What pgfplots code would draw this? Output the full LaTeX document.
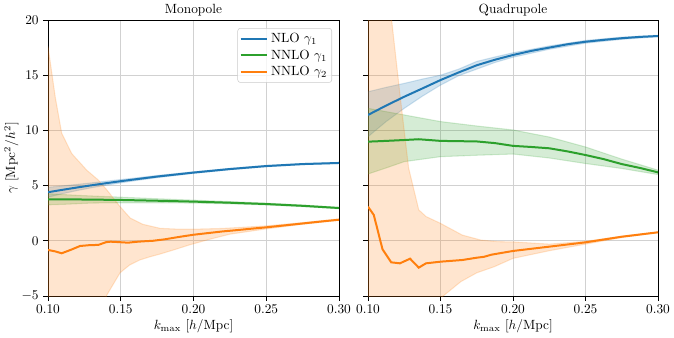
\documentclass[border=0pt]{standalone}
\usepackage{pgfplots}
\pgfplotsset{compat=1.18}
\usepgfplotslibrary{fillbetween}
\definecolor{cBlue}{RGB}{31,119,180}
\definecolor{cOrange}{RGB}{255,127,14}
\definecolor{cGreen}{RGB}{44,160,44}

\pgfplotsset{
  panel/.style={
    scale only axis, height=207pt,
    xmin=0.1, xmax=0.3, ymin=-5, ymax=20,
    xtick={0.1,0.15,0.2,0.25,0.3}, ytick={-5,0,5,10,15,20},
    xticklabel style={/pgf/number format/.cd, fixed, fixed zerofill, precision=2},
    grid=major, grid style={black!18, line width=0.6pt},
    tick align=outside, tick pos=left, major tick length=3.5pt,
    tick style={black, line width=0.6pt},
    axis line style={line width=0.6pt},
    xlabel={$k_{\max}$ [$h$/Mpc]}, xlabel shift=-3pt,
    title style={yshift=-6.5pt},
  },
  band/.style={draw=#1, draw opacity=0.2, fill=#1, fill opacity=0.2, line width=0.8pt},
  curve/.style={#1, line width=1.5pt},
}

\begin{document}
\begin{tikzpicture}

% ---------- Monopole ----------
\begin{axis}[panel, at={(0,0)}, anchor=south west, width=218.25pt,
    title={Monopole},
    ylabel={$\gamma$ [Mpc$^2/h^2$]}, ylabel shift=-4.5pt,
    legend cell align=left,
    legend style={at={(0.976,0.971)}, anchor=north east, draw=black!20,
      rounded corners=2pt, fill=white, fill opacity=0.8, text opacity=1,
      inner sep=1.5pt, row sep=0pt},
    legend image code/.code={\draw[#1] (0pt,0pt) -- (20pt,0pt);},
]
\addplot[draw=none, name path=bu, forget plot] coordinates {
  (0.10,4.85) (0.11,4.97) (0.12,5.11) (0.13,5.25) (0.14,5.40) (0.15,5.55) (0.16,5.69) (0.175,5.92) (0.20,6.25) (0.225,6.56) (0.25,6.83) (0.275,7.00) (0.30,7.10)};
\addplot[draw=none, name path=bl, forget plot] coordinates {
  (0.10,3.95) (0.11,4.27) (0.12,4.55) (0.13,4.81) (0.14,5.04) (0.15,5.25) (0.16,5.45) (0.175,5.72) (0.20,6.11) (0.225,6.44) (0.25,6.71) (0.275,6.90) (0.30,7.00)};
\addplot[band=cBlue, forget plot] fill between[of=bu and bl];
\addplot[draw=none, name path=gu, forget plot] coordinates {
  (0.10,4.26) (0.11,4.19) (0.12,4.12) (0.13,4.06) (0.15,3.95) (0.175,3.81) (0.20,3.68) (0.225,3.55) (0.25,3.41) (0.275,3.24) (0.30,3.03)};
\addplot[draw=none, name path=gl, forget plot] coordinates {
  (0.10,3.26) (0.11,3.30) (0.12,3.36) (0.13,3.42) (0.15,3.45) (0.175,3.45) (0.20,3.42) (0.225,3.35) (0.25,3.25) (0.275,3.10) (0.30,2.91)};
\addplot[band=cGreen, forget plot] fill between[of=gu and gl];
\addplot[draw=none, name path=ou, forget plot] coordinates {
  (0.100,17.6) (0.105,13.0) (0.1094,9.75) (0.1163,7.9) (0.1266,6.4) (0.1346,5.5) (0.1405,4.6) (0.1495,3.1) (0.1565,2.06) (0.165,1.5) (0.177,1.13) (0.19,1.05) (0.20,1.05) (0.22,1.12) (0.25,1.35) (0.275,1.65) (0.30,1.98)};
\addplot[draw=none, name path=ol, forget plot] coordinates {
  (0.100,-25) (0.11,-18) (0.12,-12) (0.13,-8.5) (0.1405,-4.9) (0.1495,-2.9) (0.156,-2.2) (0.163,-1.74) (0.17,-1.45) (0.177,-1.2) (0.187,-0.8) (0.197,-0.38) (0.21,0.1) (0.225,0.6) (0.25,1.08) (0.275,1.5) (0.30,1.85)};
\addplot[band=cOrange, forget plot] fill between[of=ou and ol];

\addplot[curve=cBlue] coordinates {
  (0.10,4.40) (0.11,4.62) (0.12,4.83) (0.13,5.03) (0.14,5.22) (0.15,5.40) (0.16,5.57) (0.175,5.82) (0.20,6.18) (0.225,6.50) (0.25,6.77) (0.275,6.95) (0.30,7.05)};
\addlegendentry{NLO $\gamma_1$}
\addplot[curve=cGreen] coordinates {
  (0.10,3.76) (0.125,3.74) (0.15,3.70) (0.175,3.63) (0.20,3.55) (0.225,3.45) (0.25,3.33) (0.275,3.17) (0.30,2.97)};
\addlegendentry{NNLO $\gamma_1$}
\addplot[curve=cOrange] coordinates {
  (0.100,-0.83) (0.1047,-0.95) (0.1094,-1.13) (0.116,-0.8) (0.122,-0.47) (0.128,-0.40) (0.1346,-0.37) (0.140,-0.12) (0.143,-0.08) (0.149,-0.12) (0.155,-0.17) (0.160,-0.10) (0.165,-0.05) (0.172,0.00) (0.180,0.13) (0.19,0.35) (0.20,0.55) (0.21,0.70) (0.22,0.85) (0.23,0.97) (0.24,1.10) (0.25,1.22) (0.26,1.36) (0.27,1.50) (0.28,1.64) (0.29,1.78) (0.30,1.91)};
\addlegendentry{NNLO $\gamma_2$}
\end{axis}

% ---------- Quadrupole ----------
\begin{axis}[panel, at={(240pt,0)}, anchor=south west, width=217.5pt,
    title={Quadrupole}, yticklabels={},
]
\addplot[draw=none, name path=bu, forget plot] coordinates {
  (0.10,13.5) (0.1125,13.9) (0.125,14.26) (0.1375,14.65) (0.15,15.0) (0.1625,15.55) (0.175,16.25) (0.1875,16.65) (0.20,17.03) (0.225,17.65) (0.25,18.15) (0.275,18.45) (0.30,18.62)};
\addplot[draw=none, name path=bl, forget plot] coordinates {
  (0.10,9.43) (0.1125,10.8) (0.125,12.0) (0.1375,13.1) (0.15,14.1) (0.1625,14.95) (0.175,15.55) (0.1875,16.15) (0.20,16.63) (0.225,17.35) (0.25,17.9) (0.275,18.25) (0.30,18.48)};
\addplot[band=cBlue, forget plot] fill between[of=bu and bl];
\addplot[draw=none, name path=gu, forget plot] coordinates {
  (0.10,12.0) (0.1125,11.7) (0.125,11.4) (0.15,10.8) (0.175,10.4) (0.20,10.04) (0.225,9.4) (0.25,8.5) (0.275,7.4) (0.30,6.4)};
\addplot[draw=none, name path=gl, forget plot] coordinates {
  (0.10,6.05) (0.1125,6.6) (0.125,7.17) (0.15,7.62) (0.175,7.75) (0.20,7.86) (0.225,7.5) (0.25,7.0) (0.275,6.55) (0.30,6.0)};
\addplot[band=cGreen, forget plot] fill between[of=gu and gl];
\addplot[draw=none, name path=ou, forget plot] coordinates {
  (0.10,45) (0.11,30) (0.1163,20) (0.122,13.3) (0.128,6.6) (0.135,2.8) (0.14,2.2) (0.15,1.58) (0.165,0.52) (0.178,0.06) (0.19,-0.08) (0.20,-0.10) (0.225,-0.30) (0.25,-0.05) (0.275,0.42) (0.30,0.80)};
\addplot[draw=none, name path=ol, forget plot] coordinates {
  (0.10,-40) (0.12,-20) (0.14,-8) (0.15,-5.2) (0.164,-3.7) (0.175,-2.9) (0.187,-2.35) (0.20,-1.59) (0.225,-0.9) (0.25,-0.30) (0.275,0.30) (0.30,0.74)};
\addplot[band=cOrange, forget plot] fill between[of=ou and ol];

\addplot[curve=cBlue] coordinates {
  (0.10,11.4) (0.1125,12.25) (0.125,13.05) (0.1375,13.8) (0.15,14.56) (0.1625,15.25) (0.175,15.9) (0.1875,16.4) (0.20,16.83) (0.2125,17.2) (0.225,17.5) (0.2375,17.8) (0.25,18.03) (0.2625,18.2) (0.275,18.35) (0.2875,18.47) (0.30,18.55)};
\addplot[curve=cGreen] coordinates {
  (0.10,8.98) (0.1125,9.05) (0.125,9.13) (0.135,9.20) (0.15,9.05) (0.175,9.00) (0.1875,8.85) (0.20,8.60) (0.2125,8.50) (0.225,8.38) (0.2375,8.10) (0.25,7.77) (0.2625,7.40) (0.275,6.95) (0.2875,6.60) (0.30,6.20)};
\addplot[curve=cOrange] coordinates {
  (0.100,3.09) (0.104,2.34) (0.110,-0.77) (0.116,-1.95) (0.122,-2.04) (0.129,-1.62) (0.135,-2.43) (0.140,-2.04) (0.150,-1.89) (0.165,-1.74) (0.175,-1.53) (0.180,-1.45) (0.185,-1.26) (0.20,-0.92) (0.225,-0.53) (0.25,-0.14) (0.275,0.37) (0.30,0.77)};
\end{axis}

\pgfresetboundingbox
\path[use as bounding box] (-36pt,-30.75pt) rectangle (469.5pt,222pt);
\end{tikzpicture}
\end{document}
